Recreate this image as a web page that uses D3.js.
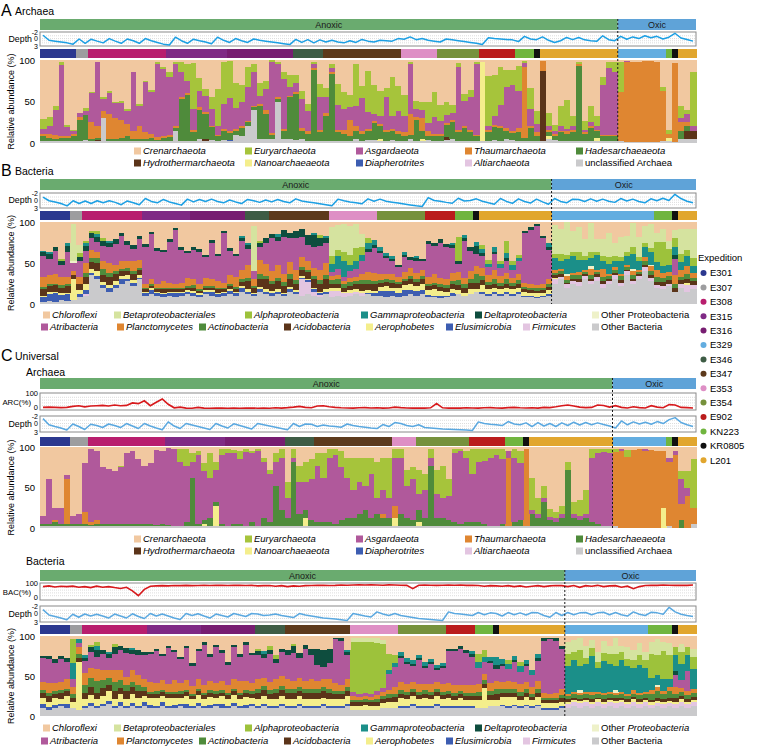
<!DOCTYPE html>
<html>
<head>
<meta charset="utf-8">
<script src="https://cdn.jsdelivr.net/npm/d3@7"></script>
<style>
  body { margin: 0; background: #fff; }
  svg { font-family: "Liberation Sans", Arial, Helvetica, sans-serif; }
</style>
</head>
<body>
<div id="chart"></div>
<script>
// ---------- categories ----------
var expNames  = ["E301","E307","E308","E315","E316","E329","E346","E347","E353","E354","E902","KN223","KR0805","L201"];
var expColors = ["#2b388f","#9d9d9f","#b81e6e","#7f2a85","#771d71","#63ade0","#3e5c45","#5d3a1c","#de8fc5","#76913c","#ba1c1c","#70b53f","#111111","#e1a62e"];
var zoneNames  = ["Anoxic","Oxic"];
var zoneColors = ["#6aab6f","#5fa3d8"];

var archKeys   = ["Crenarchaeota","Euryarchaeota","Asgardaeota","Thaumarchaeota","Hadesarchaeaeota",
                  "Hydrothermarchaeota","Nanoarchaeaeota","Diapherotrites","Altiarchaeota","unclassified Archaea"];
var archColors = ["#f1c8a0","#a6c43b","#b0599b","#df8631","#4f8b3b","#5b3419","#f4ee8c","#3d5db1","#e3c5e1","#cacacc"];
var bactKeys   = ["Chloroflexi","Betaproteobacteriales","Alphaproteobacteria","Gammaproteobacteria","Deltaproteobacteria",
                  "Other Proteobacteria","Atribacteria","Planctomycetes","Actinobacteria","Acidobacteria",
                  "Aerophobetes","Elusimicrobia","Firmicutes","Other Bacteria"];
var bactColors = ["#f1c8a0","#d5e39f","#9dc23b","#1b8f89","#0e4d3e","#eef1c9","#b0599b","#df8631","#4f8b3b","#5b3419",
                  "#f4ee8c","#3d5db1","#e3c5e1","#cacacc"];
var plainNames = ["unclassified Archaea","Other Proteobacteria","Other Bacteria"];
var depthTicks = ["-2","0","3"];
var abundTicks = [0, 50, 100];

// ---------- samples per expedition (left to right) ----------
var expA  = [["E301",6],["E307",2],["E308",13],["E315",10],["E316",11],["E346",5],["E347",13],["E353",6],["E354",7],["E902",6],["KN223",3],["KR0805",1],["L201",13],["E329",8],["KN223",1],["KR0805",1],["L201",3]];
var expB  = [["E301",5],["E307",2],["E308",10],["E315",8],["E316",9],["E346",4],["E347",10],["E353",8],["E354",8],["E902",5],["KN223",3],["KR0805",1],["L201",12],["E329",17],["KN223",3],["KR0805",1],["L201",3]];
var expCa = [["E301",5],["E307",3],["E308",13],["E315",10],["E316",10],["E346",5],["E347",13],["E353",4],["E354",9],["E902",6],["KN223",3],["KR0805",1],["L201",14],["E329",9],["KN223",1],["KR0805",1],["L201",3]];
var expCb = [["E301",5],["E307",2],["E308",11],["E315",9],["E316",9],["E346",5],["E347",11],["E353",8],["E354",8],["E902",5],["KN223",3],["KR0805",1],["L201",11],["E329",14],["KN223",4],["KR0805",1],["L201",3]];

// ---------- A: archaea (% per sample) ----------
var aUncl = [2,2,2,2,2,3,3,4,2,3, 30,3,2,2,3,2,2,3,2,2, 3,2,15,3,3,3,5,3,4,3, 4,3,10,8,20,40,5,5,5,50,
  5,5,4,5,3,3,3,3,3,3, 3,3,5,3,4,4,3,3,4,3, 3,5,3,3,4,3,3,4,5,3, 3,3,3,2,3,4,3,5,4,3,
  3,3,3,2,5,4,3,3,3,3, 3,3,3,3,3,3,2,1,1,1, 1,1,1,3,3,1,5,5,5];
var aHades = [5,4,3,3,4,6,25,30,3,2, 0,2,3,4,5,3,3,2,4,2, 3,5,3,50,55,10,35,30,15,5, 10,8,5,10,5,3,40,30,5,3,
  10,50,55,10,8,85,10,30,80,10, 8,5,10,8,10,20,15,10,10,8, 5,5,25,10,5,5,5,15,20,10, 15,10,5,0,10,15,15,10,8,10,
  3,15,5,0,5,5,10,8,10,90, 8,15,8,5,5,5,0,0,0,0, 0,0,0,0,0,0,10,5,0];
var aThaum = [3,5,5,3,3,2,3,0,20,15, 8,30,25,22,15,10,15,8,5,3, 3,3,2,2,2,3,3,2,2,2, 3,2,2,2,2,2,2,5,2,2,
  2,2,3,3,3,2,3,3,2,3, 5,20,5,3,3,3,3,3,3,3, 5,25,3,15,5,3,3,2,3,3, 3,3,2,0,3,3,3,3,3,5,
  85,3,5,12,3,2,2,3,3,2, 2,2,2,2,2,2,60,97,97,96, 98,98,97,60,5,95,10,5,0];
var aAsg = [6,10,30,85,10,3,5,5,35,76, 15,25,18,20,15,70,25,60,50,88, 80,70,75,30,15,25,20,20,20,10, 30,40,25,30,40,40,10,25,85,40,
  60,10,10,35,25,5,40,20,5,30, 25,15,25,40,20,8,10,40,15,25, 20,60,10,10,10,20,15,10,8,75, 30,40,85,0,5,10,25,50,55,45,
  5,20,10,0,5,3,5,3,5,0, 3,5,5,60,80,75,0,1,0,0, 0,0,0,0,0,0,5,10,5];
var aEury = [12,10,5,4,3,2,0,3,2,0, 2,3,2,3,3,0,2,2,3,2, 3,5,3,12,20,55,15,8,15,45, 50,45,30,20,25,10,15,10,3,3,
  8,15,10,10,8,3,15,10,5,25, 20,15,50,15,50,35,30,10,48,30, 25,3,10,10,25,30,20,15,10,5, 8,8,3,0,60,50,45,20,18,30,
  3,25,15,0,15,8,25,35,12,3, 10,20,12,10,8,12,35,0,0,0, 0,0,0,5,5,0,15,5,65];
var aHydro = [[0,1],[9,1],[27,2],[67,3],[83,85],[107,10],[108,10]];
var aNano  = [[56,2],[63,2],[73,96],[84,3],[92,3],[104,3]];
var aDiaph = [[3,1],[31,1]];
var depthA = [-1.2,0.8,1.2,1.6,2.0,2.6,0.2,2.2,0.3,1.2, 2.0,0.0,1.2,2.2,0.2,1.0,2.2,0.0,1.0,1.8,
  2.6,3.0,-0.5,1.0,2.2,0.3,1.0,1.6,2.4,-0.5, 0.8,1.8,0.0,1.0,1.8,0.2,0.8,1.2,1.6,2.0,
  2.4,2.8,0.4,1.8,0.5,2.0,0.6,1.6,0.8,1.6, 2.0,1.0,1.8,0.4,1.2,1.6,0.8,1.0,1.2,0.0,
  0.3,-0.6,0.5,0.0,0.8,1.2,1.6,0.2,0.6,1.0, 1.4,1.8,2.2,2.8,-0.3,0.0,0.2,0.4,0.6,1.4,
  -0.8,0.2,0.5,-0.6,0.8,1.8,1.0,-0.4,0.5,-0.4, 0.6,1.0,1.3,-1.0,0.5,1.0,-0.8,0.3,-0.6,0.0,
  -1.0,-0.3,-0.8,0.2,-0.5,-1.9,-0.2,0.4,1.2];

// ---------- B: bacteria (% per sample) ----------
var bOB = [3,4,3,5,4,5,8,10,35,30, 20,15,20,25,28,22,30,10,12,10, 8,10,8,10,12,10,8,12,10,9, 10,12,10,15,12,10,15,12,10,12,
  10,15,12,10,12,10,8,12,8,10, 8,10,12,10,12,10,10,8,10,9, 10,12,10,12,8,8,7,8,10,12, 10,12,15,12,10,12,10,12,10,12,
  8,8,7,8,10,25,30,20,25,22, 30,25,28,20,25,30,22,35,25,30, 40,28,20,18,22,15,20,15,18];
var bFirm = [0,0,0,0,0,0,0,2,0,0, 0,0,0,0,0,0,0,0,0,0, 0,0,0,0,0,0,0,0,0,0, 0,0,0,0,0,0,0,0,0,0,
  0,0,0,20,15,5,3,0,8,6, 5,4,3,3,0,0,0,0,0,0, 0,0,0,0,0,0,0,0,0,0, 0,0,0,0,0,0,0,0,0,0,
  0,0,0,0,0,5,3,4,3,5, 4,3,5,4,3,5,4,5,3,4, 5,4,3,4,3,0,5,8,5];
var bElus = [5,8,10,6,8,0,4,5,3,4, 3,5,3,6,3,4,2,3,5,3, 4,3,5,3,3,4,3,3,5,3, 3,4,3,5,3,2,3,3,3,3,
  2,3,3,2,2,3,2,3,0,0, 0,0,0,0,2,3,6,8,6,5, 7,5,6,5,3,2,3,2,3,0, 0,0,0,3,2,3,2,3,2,3,
  2,2,2,2,2,0,0,0,0,0, 0,0,0,0,0,0,0,0,0,0, 0,0,0,0,0,0,0,0,0];
var bAero = [2,3,2,3,2,25,5,8,5,6, 4,3,5,3,4,3,3,2,2,2, 2,2,2,2,2,2,2,2,2,2, 2,2,2,2,3,2,3,3,3,3,
  2,3,2,2,2,2,2,3,3,3, 2,3,3,3,3,3,5,6,4,5, 6,8,6,8,6,8,6,5,5,5, 4,6,3,8,6,5,6,5,6,5,
  5,4,4,4,5,2,0,0,0,0, 0,0,0,0,0,0,0,0,0,0, 0,0,0,0,0,0,0,3,0];
var bAcido = [8,7,8,6,8,5,8,8,8,10, 8,10,8,6,5,8,6,3,3,3, 4,3,3,3,3,4,3,3,3,4, 3,4,3,5,10,5,10,12,8,10,
  8,10,8,8,8,10,10,12,5,6, 5,5,6,8,8,8,5,5,6,5, 5,6,5,5,5,5,5,5,6,6, 5,8,8,6,5,5,4,5,4,5,
  3,3,3,3,4,3,3,2,3,3, 2,3,3,4,2,3,3,2,3,2, 3,3,4,5,4,5,4,5,5];
var bActino = [3,3,2,3,3,0,0,5,5,6, 8,5,4,3,4,3,3,2,2,2, 2,2,2,2,2,3,2,2,2,2, 2,3,3,3,4,3,5,4,4,4,
  5,5,4,3,3,4,4,5,5,5, 4,5,4,5,4,4,3,3,3,3, 3,3,3,4,3,3,3,3,4,6, 5,4,10,5,4,6,4,5,4,4,
  3,3,3,3,4,3,4,3,4,5, 3,4,3,5,4,3,5,3,4,3, 4,5,6,5,5,5,4,5,4];
var bPlancto = [12,10,12,10,8,5,8,12,10,8, 10,12,8,10,8,12,10,5,6,5, 8,6,5,6,10,8,6,10,8,8, 6,10,12,12,15,8,18,15,12,15,
  10,15,12,12,10,10,12,15,5,5, 4,5,5,8,10,10,8,6,8,6, 8,10,8,8,8,10,8,8,10,10, 8,10,10,10,8,10,8,8,6,8,
  5,5,4,5,6,3,3,5,3,4, 3,8,3,10,3,4,3,3,5,3, 5,6,8,6,5,10,8,10,6];
var bAtri = [25,20,28,15,30,10,20,15,15,12, 18,20,25,30,20,15,25,45,55,40, 35,50,65,40,30,35,40,25,45,30, 60,30,25,35,20,10,15,25,40,30,
  45,30,40,25,20,25,30,25,5,8, 5,8,10,15,25,30,25,20,15,12, 18,10,15,10,40,35,42,38,30,10, 45,25,15,15,10,20,10,15,10,15,
  60,65,72,55,35,0,0,0,0,0, 0,0,0,0,0,0,0,0,0,0, 0,0,0,0,0,20,0,0,0];
var bOtherP = [[5,3],[87,3],[91,3],[98,3],[101,2]];
var bDelta = [5,6,5,4,8,0,4,6,5,6, 6,5,6,4,5,5,4,3,3,3, 3,3,3,3,3,3,3,3,3,3, 3,3,3,3,5,0,5,6,5,5,
  8,6,8,10,12,15,10,5,0,0, 0,0,0,0,3,4,3,3,3,3, 3,3,3,3,4,4,5,4,4,3, 4,5,10,3,0,3,0,3,0,0,
  3,4,3,3,4,0,0,0,0,0, 0,0,0,0,0,0,0,0,0,0, 0,0,0,0,0,5,0,0,0];
var bGamma = [2,3,0,0,3,0,0,3,0,3, 0,2,0,0,0,0,0,0,0,0, 0,0,0,0,0,0,0,0,0,0, 0,0,0,3,3,0,0,0,0,3,
  0,0,0,0,0,2,0,3,10,15, 20,8,10,8,8,6,4,3,3,0, 3,0,3,0,0,0,0,0,3,0, 3,0,5,5,4,5,5,6,5,4,
  0,0,0,0,4,15,10,18,20,15, 12,10,18,10,12,8,15,10,18,10, 12,15,10,8,8,10,10,12,8];
var bAlpha = [0,0,0,3,0,0,5,3,3,4, 3,0,0,0,0,0,0,0,0,0, 0,0,0,0,0,0,0,0,0,0, 0,0,0,0,0,0,3,0,0,0,
  0,0,0,0,0,0,3,0,10,8, 10,12,15,10,5,0,0,0,0,0, 0,0,0,0,0,0,0,0,0,30, 0,0,0,5,5,0,3,15,5,4,
  0,0,0,0,0,5,8,5,6,10, 5,8,4,6,8,6,5,5,8,5, 6,5,25,30,20,10,10,8,10];
var bBeta = [0,0,0,0,0,45,10,0,0,0, 0,0,0,0,0,0,0,0,0,0, 0,0,0,0,0,0,0,0,0,0, 0,0,0,0,0,55,0,0,0,0,
  0,0,0,0,0,0,0,0,35,30, 35,35,30,15,0,0,0,0,0,0, 0,0,0,0,0,0,0,0,0,0, 0,0,0,0,0,0,0,0,0,0,
  0,0,0,0,0,35,30,40,25,30, 20,35,15,20,30,15,25,20,30,25, 20,30,10,15,10,10,30,25,35];
var depthB = [-1.0,0.3,0.8,1.5,2.5,0.3,1.5,0.4,1.5,0.3, 1.2,0.3,1.0,2.0,0.4,1.2,2.0,-0.5,0.6,1.2,
  -0.2,0.8,1.5,2.2,-0.3,0.8,-0.2,0.6,-0.3,0.6, 1.2,0.0,0.8,1.5,-0.2,0.3,1.0,0.0,0.8,-0.2,
  0.6,1.2,-0.4,0.4,0.8,1.2,1.6,2.0,2.5,-0.3, 0.3,0.8,1.2,1.6,-0.4,0.5,-0.3,0.5,0.9,1.3,
  1.7,2.1,2.5,2.8,-0.8,0.2,0.5,1.0,1.4,-0.6, 0.4,0.2,-0.4,0.5,1.2,1.8,-0.5,0.6,1.4,-0.4,
  0.6,1.3,-0.3,0.8,1.8,-0.5,0.6,1.2,-0.3,-0.2, 0.6,-0.4,0.5,-0.3,0.5,1.0,-0.5,0.4,-0.3,0.6,
  1.2,-0.4,0.3,-0.6,0.2,-1.9,-0.5,0.5,1.2];

// ---------- C: universal, archaea ----------
var caUncl = [2,2,3,2,2,2,2,2,2,2, 2,2,2,2,2,2,2,2,2,2, 2,2,2,2,2,2,2,2,2,2, 2,2,2,2,2,2,2,2,2,2,
  2,2,2,2,2,2,2,2,2,2, 2,2,2,2,2,2,2,2,2,2, 2,2,2,2,2,2,2,2,2,2, 2,2,2,2,2,2,2,2,2,2,
  2,2,2,2,2,2,2,2,2,2, 2,2,2,2,2,2,2,0,0,0, 0,0,0,0,0,2,0,0,0,5];
var caHades = [3,3,5,3,3,3,3,3,2,3, 3,3,3,3,3,3,3,3,3,2, 3,2,0,0,5,60,3,5,10,5, 3,0,3,3,0,5,0,10,5,50,
  20,10,80,15,10,8,5,5,5,3, 8,10,10,15,20,10,15,10,10,0, 15,10,8,15,10,75,10,10,8,5, 3,5,5,5,3,0,0,3,0,5,
  8,0,15,10,30,8,5,10,70,10, 8,10,5,3,0,0,0,0,0,0, 0,0,0,0,0,0,0,10,0,0];
var caThaum = [0,0,2,0,55,0,0,15,3,5, 0,0,0,0,0,0,0,0,0,0, 0,0,0,0,0,0,0,0,0,0, 0,0,0,0,0,0,0,0,0,0,
  0,0,0,0,0,0,0,0,0,0, 0,0,0,0,0,0,0,5,0,15, 0,0,0,0,0,0,0,0,0,0, 0,0,0,0,0,0,0,0,85,0,
  0,95,0,0,0,0,0,0,0,0, 0,0,0,0,0,0,92,95,88,96, 97,95,96,95,70,80,90,20,40,20];
var caAsg = [10,55,15,20,5,10,12,60,90,85, 70,68,65,70,88,90,80,72,75,92, 90,95,96,80,70,20,85,60,50,40, 85,90,88,80,92,85,93,70,60,30,
  65,25,5,40,35,50,70,55,80,85, 65,50,35,40,30,55,20,30,25,60, 70,40,50,20,35,10,30,25,30,85, 90,80,60,75,78,85,88,80,8,80,
  70,0,5,5,5,3,5,5,0,5, 5,5,80,88,92,90,0,2,0,0, 0,2,0,0,0,5,5,30,10,0];
var caEury = [0,0,0,0,0,0,0,0,0,0, 0,0,0,2,0,0,0,0,0,0, 0,0,0,15,20,10,5,10,30,10, 8,5,3,10,3,3,2,5,5,10,
  10,20,10,20,25,25,15,30,10,8, 20,25,40,30,35,20,45,40,50,10, 10,20,15,30,20,10,30,40,20,5, 3,8,30,15,15,10,8,12,0,10,
  15,0,40,20,15,10,8,10,10,15, 20,30,10,5,3,5,3,0,8,0, 0,0,0,0,0,0,0,10,20,60];
var caNano = [[27,3],[29,25],[44,10],[59,10],[63,5],[104,25]];
var arcPct = [8,10,8,6,8,15,20,12,18,20, 22,18,25,20,22,40,35,55,20,45, 68,30,5,10,3,2,8,3,2,4, 3,2,3,2,3,4,2,3,2,5,
  3,6,10,15,8,5,18,20,12,8, 5,4,3,5,6,4,5,3,4,10, 6,4,3,4,3,5,35,5,3,4, 3,5,4,3,5,6,4,3,6,8,
  5,4,5,3,8,6,12,20,25,18, 10,6,8,25,22,10,20,8,4,12, 6,4,20,10,5,28,25,8,6,4];
var depthCa = [-1.5,0.5,1.2,1.8,2.6,0.2,1.2,2.4,0.3,0.8, 1.6,0.2,0.8,1.6,0.0,1.0,2.0,0.0,1.0,1.8,
  2.5,-0.5,1.0,2.0,0.0,0.6,1.2,1.8,2.4,0.0, 1.0,1.8,0.1,0.8,1.5,2.2,0.0,0.5,1.0,1.5,
  2.0,2.5,0.0,1.2,0.2,0.3,1.2,0.6,1.0,1.2, 1.5,0.2,0.8,1.2,1.5,1.8,2.0,0.4,1.2,-0.3,
  0.0,0.8,1.2,0.5,1.6,1.8,2.0,2.2,2.3,2.4, 2.5,2.6,2.8,-0.5,0.0,0.3,0.5,0.8,-0.6,0.2,
  0.5,-0.2,1.2,-0.3,1.0,0.0,1.2,-0.2,0.8,-0.4, 0.6,-0.3,0.5,-0.2,0.4,1.0,1.8,-0.8,0.5,-0.5,
  0.2,-0.4,0.3,-0.6,0.0,-1.2,-1.8,-0.3,0.5,1.2];

// ---------- C: universal, bacteria ----------
var cbOB = [10,8,10,12,10,10,8,10,12,10, 12,15,10,12,10,12,10,12,10,10, 12,10,10,12,10,10,12,10,10,12, 10,10,12,10,10,12,10,12,10,10,
  12,10,10,12,10,10,10,12,10,10, 10,12,8,8,8,8,8,10,10,10, 10,10,12,10,10,10,12,10,10,10, 10,10,10,10,10,12,12,12,10,12,
  10,12,10,12,8,8,8,10,10,12, 10,12,10,12,10,12,10,12,10,12, 10,12,10,12,10,12,10,12,10,12];
var cbFirm = [0,0,0,0,0,0,0,0,0,0, 0,0,0,0,0,0,0,0,0,0, 0,0,0,0,0,0,0,0,0,0, 0,0,0,0,0,0,0,0,0,0,
  0,0,0,0,0,0,0,0,0,0, 0,0,0,0,0,0,0,0,0,0, 0,0,0,0,0,0,0,0,0,0, 0,0,0,0,0,0,0,0,0,0,
  0,0,0,0,0,0,0,0,5,5, 6,5,5,6,5,5,6,5,5,6, 5,5,4,4,5,4,5,6,5,5];
var cbElus = [5,3,4,3,5,0,0,3,4,3, 3,4,3,5,3,4,3,5,4,3, 5,3,4,3,5,3,4,3,4,3, 5,3,4,3,4,3,3,3,3,3,
  3,3,3,3,3,3,3,3,3,3, 3,3,0,0,0,0,0,0,0,0, 3,3,3,3,3,3,3,3,2,2, 2,2,2,0,0,0,0,2,2,2,
  2,2,2,2,2,2,2,2,0,0, 0,0,0,0,0,0,0,0,0,0, 0,0,0,0,0,0,0,0,0,0];
var cbAero = [8,6,8,6,10,8,60,8,10,8, 10,12,8,10,8,12,10,8,8,10, 8,10,8,8,10,8,10,8,10,8, 10,8,10,8,10,8,8,10,8,8,
  10,8,8,10,8,8,8,8,8,8, 8,10,5,5,6,5,5,6,8,8, 10,8,10,8,10,8,10,8,10,8, 10,8,8,10,25,8,8,10,12,10,
  8,10,8,10,6,6,6,6,3,3, 3,3,3,3,3,3,3,3,3,3, 3,3,3,3,3,3,3,3,3,3];
var cbAcido = [6,8,6,8,6,5,5,8,10,8, 10,8,10,8,10,8,8,6,5,5, 5,4,5,5,5,4,5,5,5,5, 4,5,5,5,5,5,8,8,6,8,
  8,8,8,6,8,8,8,8,8,6, 6,6,4,4,4,4,5,5,5,6, 5,5,5,5,5,5,5,5,5,5, 5,5,5,5,5,6,8,5,5,5,
  5,5,4,5,4,4,4,4,3,3, 2,3,3,2,3,3,3,2,3,3, 3,3,3,4,3,4,5,4,3,4];
var cbActino = [3,4,3,4,3,5,5,10,12,15, 10,8,12,10,8,6,8,5,3,3, 3,3,3,3,3,3,3,3,3,3, 3,3,3,3,3,3,5,5,5,5,
  5,5,5,5,5,5,5,5,5,4, 4,5,3,3,3,3,3,4,4,4, 4,4,4,4,4,4,4,4,4,4, 4,4,4,5,5,5,6,5,5,5,
  5,5,4,5,3,3,3,4,4,4, 5,4,5,4,5,4,4,5,4,4, 5,4,8,8,6,8,5,5,5,5];
var cbPlancto = [10,12,10,10,12,8,8,15,12,15, 12,10,15,12,10,15,12,10,12,10, 12,10,15,10,12,10,12,10,12,10, 12,10,12,15,12,10,12,10,10,12,
  12,12,10,12,10,12,10,10,12,10, 8,10,5,4,4,4,5,5,6,8, 10,10,8,10,8,10,8,10,10,10, 8,10,10,10,8,10,10,8,10,8,
  10,8,8,10,6,5,6,8,3,3, 3,3,4,3,3,3,3,3,3,4, 3,3,4,5,4,5,8,5,5,5];
var cbAtri = [30,30,25,28,22,10,5,15,20,15, 20,15,20,25,30,20,25,30,35,40, 30,45,35,30,40,25,35,50,30,45, 35,25,40,30,45,35,30,25,35,20,
  30,30,35,25,40,30,20,15,20,55, 55,30,5,4,4,3,5,5,20,25, 30,25,20,30,20,25,15,20,40,42, 45,40,35,20,15,25,15,20,15,25,
  15,20,15,25,65,68,65,50,0,0, 0,0,0,0,0,0,0,0,0,0, 0,0,0,0,0,0,15,10,25,0];
var cbOtherP = [[90,3],[96,3],[103,3]];
var cbDelta = [3,4,5,4,4,0,0,4,6,8, 6,5,8,6,6,5,6,4,3,3, 3,3,3,3,3,3,3,3,3,3, 3,3,3,3,3,3,5,5,5,5,
  4,6,8,6,5,8,20,22,18,2, 3,4,0,0,0,0,0,0,0,0, 3,3,3,3,3,3,3,3,3,3, 3,3,4,0,0,3,5,3,0,3,
  0,3,0,3,3,2,3,4,0,0, 0,0,0,0,0,0,0,0,0,0, 0,0,0,0,0,0,5,0,0,0];
var cbGamma = [0,0,0,0,0,20,5,3,0,5, 0,3,0,0,0,3,0,0,0,0, 0,0,0,0,0,0,0,0,0,0, 0,0,0,0,0,0,0,3,0,0,
  0,0,0,0,0,0,0,0,0,0, 0,3,0,0,0,0,0,0,5,5, 5,4,5,3,4,3,4,3,0,0, 0,0,3,8,6,5,10,6,6,5,
  8,5,6,5,0,0,0,0,35,40, 30,35,45,30,40,35,30,40,35,28, 35,30,15,12,15,10,20,20,20,25];
var cbAlpha = [0,0,0,0,0,30,0,0,3,5, 0,0,4,0,0,0,0,0,0,0, 0,0,0,0,0,0,0,0,0,0, 0,0,0,0,0,0,3,0,5,5,
  0,0,3,0,0,0,0,0,0,0, 0,0,62,65,64,66,60,55,20,10, 0,0,0,0,0,0,0,0,0,0, 0,0,0,10,8,0,0,0,5,0,
  5,0,0,0,0,0,0,0,15,10, 20,8,10,8,10,12,15,10,8,10, 12,10,30,25,35,30,10,15,10,15];
var cbBeta = [0,0,0,0,0,0,0,0,0,0, 0,0,0,0,0,0,0,0,0,0, 0,0,0,0,0,0,0,0,0,0, 0,0,0,0,0,0,0,0,0,0,
  0,0,0,0,0,0,0,0,0,0, 0,0,5,4,4,4,6,5,0,0, 0,0,0,0,0,0,0,0,0,0, 0,0,0,0,0,0,0,0,0,0,
  0,0,0,0,0,0,0,0,15,15, 15,15,10,12,15,10,20,8,15,12, 15,10,15,20,12,15,0,10,0,10];
var bacPct = [85,90,82,88,85,88,80,85,78,88, 80,85,78,72,80,55,20,65,88,90, 92,90,93,92,94,92,93,94,93,95, 94,93,95,94,93,94,90,92,93,88,
  92,85,90,88,92,93,94,95,93,94, 96,95,96,97,96,97,96,95,97,96, 95,94,70,95,96,95,94,95,96,95, 96,94,95,93,88,92,90,88,92,85,
  90,82,88,92,85,90,93,92,85,93, 80,92,88,94,85,90,92,80,88,70, 85,93,95,94,96,95,94,95,94,96];
var depthCb = [-1.2,0.6,1.2,1.8,2.5,0.3,1.5,0.2,1.0,0.3, 1.0,1.8,0.2,1.0,1.8,0.1,1.2,2.0,0.0,1.0,
  0.2,1.0,1.8,2.4,0.0,0.8,0.1,1.0,1.8,0.2, 0.8,1.4,0.0,0.6,1.2,0.0,0.2,0.8,0.6,0.2,
  0.8,1.2,1.6,0.0,0.6,1.0,1.4,1.8,2.0,2.2, 2.5,2.8,0.0,0.5,1.0,1.4,-0.5,0.2,0.8,0.0,
  0.8,1.2,1.6,2.0,2.2,2.4,2.6,2.8,-0.5,0.0, 0.2,0.5,0.8,-0.3,0.5,-0.2,0.0,1.0,-0.3,0.5,
  -0.2,0.6,-0.3,-0.2,0.8,1.5,-0.3,0.8,-0.3,0.5, -0.2,-0.3,0.5,-0.2,-0.4,0.5,-0.3,0.5,1.0,-0.5,
  0.3,0.8,-0.4,-0.2,0.3,-1.9,-0.5,0.3,0.8,1.2];

// ---------- drawing ----------
var W = 757, H = 747, X0 = 40, X1 = 696;
var svg = d3.select("#chart").append("svg").attr("width", W).attr("height", H);

function dense(n, pairs) {
  var a = new Array(n).fill(0);
  pairs.forEach(function(p) { a[p[0]] = p[1]; });
  return a;
}
function expand(counts) {
  var out = [];
  counts.forEach(function(c) { for (var k = 0; k < c[1]; k++) out.push(c[0]); });
  return out;
}

function drawPanel(p) {
  var samples = expand(p.exp), n = samples.length;
  var nAnox = samples.indexOf("E329");
  var x = d3.scaleBand().domain(d3.range(n)).range([X0, X1]);
  var xs = x(nAnox);
  var g = svg.append("g");

  // titles
  if (p.letter) {
    g.append("text").attr("x", 1).attr("y", p.letterY).attr("font-size", 16).text(p.letter);
    g.append("text").attr("x", 15).attr("y", p.letterY - 1).attr("font-size", 10.5).text(p.title);
  }
  if (p.sub) g.append("text").attr("x", 26).attr("y", p.subY).attr("font-size", 10.5).text(p.sub);

  // anoxic / oxic band
  var zones = [[X0, xs], [xs, X1]];
  zones.forEach(function(z, k) {
    g.append("rect").attr("x", z[0]).attr("y", p.anox[0]).attr("width", z[1] - z[0])
      .attr("height", p.anox[1] - p.anox[0]).attr("fill", zoneColors[k]);
    g.append("text").attr("x", (z[0] + z[1]) / 2).attr("y", (p.anox[0] + p.anox[1]) / 2 + 3.3)
      .attr("text-anchor", "middle").attr("font-size", 9).attr("fill", "#1a1a1a").text(zoneNames[k]);
  });

  var line = function(scale, vals) {
    return d3.line().x(function(d, i) { return x(i) + x.bandwidth() / 2; }).y(function(d) { return scale(d); })(vals);
  };

  // ratio box (C only)
  if (p.ratio) {
    var rb = p.ratioBox;
    var ry = d3.scaleLinear().domain([0, 100]).range([rb[1] - 1.5, rb[0] + 1.5]);
    g.append("rect").attr("x", X0).attr("y", rb[0]).attr("width", X1 - X0).attr("height", rb[1] - rb[0])
      .attr("fill", "#fff").attr("stroke", "#8a8a8a").attr("stroke-width", 1);
    [20, 40, 60, 80].forEach(function(v) {
      g.append("line").attr("x1", X0).attr("x2", X1).attr("y1", ry(v)).attr("y2", ry(v))
        .attr("stroke", "#c4c4c4").attr("stroke-width", 0.6).attr("stroke-dasharray", "1,1");
    });
    g.append("path").attr("d", line(ry, p.ratio)).attr("fill", "none").attr("stroke", "#d7191c").attr("stroke-width", 1.6);
    g.append("text").attr("x", 38).attr("y", rb[0] + 2.5).attr("text-anchor", "end").attr("font-size", 7.5).text("100");
    g.append("text").attr("x", 38).attr("y", rb[1] - 0.5).attr("text-anchor", "end").attr("font-size", 7.5).text("0");
    g.append("text").attr("x", 31).attr("y", (rb[0] + rb[1]) / 2 + 3).attr("text-anchor", "end").attr("font-size", 7.8).text(p.ratioLabel);
  }

  // depth box
  var db = p.depthBox;
  var dMid = db[0] + (db[1] - db[0]) * 0.47;
  var dy = d3.scaleLinear().domain([-2, 0, 3]).range([db[0] + 1, dMid, db[1] - 1]);
  g.append("rect").attr("x", X0).attr("y", db[0]).attr("width", X1 - X0).attr("height", db[1] - db[0])
    .attr("fill", "#fff").attr("stroke", "#8a8a8a").attr("stroke-width", 1);
  [-1, 0, 1, 2].forEach(function(v) {
    g.append("line").attr("x1", X0).attr("x2", X1).attr("y1", dy(v)).attr("y2", dy(v))
      .attr("stroke", "#c4c4c4").attr("stroke-width", 0.6).attr("stroke-dasharray", "1,1");
  });
  g.append("path").attr("d", line(dy, p.depth)).attr("fill", "none")
    .attr("stroke", p.depthColor).attr("stroke-width", 1.5).attr("stroke-linejoin", "round");
  // tick labels sit at the top, middle and bottom of the box
  var tickY = [db[0] + 2.5, dMid + 2.6, db[1] + 3];
  depthTicks.forEach(function(t, k) {
    g.append("text").attr("x", 38).attr("y", tickY[k]).attr("text-anchor", "end").attr("font-size", 7).text(t);
  });
  g.append("text").attr("x", 32).attr("y", dMid + 3.2).attr("text-anchor", "end").attr("font-size", 8.8).text("Depth");

  // expedition strip
  g.selectAll(".strip").data(samples).enter().append("rect")
    .attr("x", function(d, i) { return x(i); }).attr("width", x.bandwidth() + 0.5)
    .attr("y", p.strip[0]).attr("height", p.strip[1] - p.strip[0])
    .attr("fill", function(d) { return expColors[expNames.indexOf(d)]; })
    .attr("shape-rendering", "crispEdges");

  // stacked bars
  var topKey = p.keys[0];
  var rows = d3.range(n).map(function(i) {
    var r = {}, used = 0;
    p.keys.slice(1).forEach(function(k) {
      var v = p.series[k] ? (p.series[k][i] || 0) : 0;
      r[k] = v; used += v;
    });
    r[topKey] = Math.max(0, 100 - used);
    return r;
  });
  var stacked = d3.stack().keys(p.keys.slice().reverse())(rows);
  var y = d3.scaleLinear().domain([0, 100]).range([p.bars[1], p.bars[0]]);
  g.selectAll(".layer").data(stacked).enter().append("g")
    .attr("fill", function(d) { return p.colors[p.keys.indexOf(d.key)]; })
    .selectAll("rect").data(function(d) { return d; }).enter().append("rect")
      .attr("x", function(d, i) { return x(i); })
      .attr("width", x.bandwidth() + 0.5)
      .attr("y", function(d) { return y(d[1]); })
      .attr("height", function(d) { return y(d[0]) - y(d[1]); })
      .attr("shape-rendering", "crispEdges");

  var ax = g.append("g").attr("transform", "translate(" + X0 + ",0)")
    .call(d3.axisLeft(y).tickValues(abundTicks).tickSize(0).tickPadding(5));
  ax.select(".domain").remove();
  ax.selectAll("text").attr("font-size", 9.5).attr("font-family", "Liberation Sans, Arial, sans-serif");
  g.append("text").attr("transform", "translate(14," + ((p.bars[0] + p.bars[1]) / 2) + ") rotate(-90)")
    .attr("text-anchor", "middle").attr("font-size", 9).text("Relative abundance (%)");

  // oxic boundary
  g.append("line").attr("x1", xs).attr("x2", xs).attr("y1", p.anox[0]).attr("y2", p.bars[1])
    .attr("stroke", "#1a1a1a").attr("stroke-width", 1).attr("stroke-dasharray", "2,2");

  // legend
  p.legendRows.forEach(function(row, r) {
    d3.range(row[0], row[1]).forEach(function(k, j) {
      var lx = p.legendCols[r][j], ly = p.legendY[r];
      g.append("rect").attr("x", lx).attr("y", ly - 3.5).attr("width", 7).attr("height", 7).attr("fill", p.colors[k]);
      var name = p.keys[k];
      var t = g.append("text").attr("x", lx + 9).attr("y", ly + 3.3).attr("font-size", 9.5);
      if (p.splitOther && name === "Other Proteobacteria") {
        t.append("tspan").text("Other ");
        t.append("tspan").attr("font-style", "italic").text("Proteobacteria");
      } else {
        t.attr("font-style", plainNames.indexOf(name) >= 0 ? "normal" : "italic").text(name);
      }
    });
  });
}

var archCols = [[134, 245, 356, 465, 576], [134, 245, 356, 465, 576]];
var bactCols = [[43, 114, 245, 361, 475, 592], [41, 117, 199, 284, 366, 446, 523, 592]];

drawPanel({
  letter: "A", title: "Archaea", letterY: 16,
  exp: expA, keys: archKeys, colors: archColors, depth: depthA, depthColor: "#1c9fe3",
  series: {
    "Euryarchaeota": aEury, "Asgardaeota": aAsg, "Thaumarchaeota": aThaum, "Hadesarchaeaeota": aHades,
    "Hydrothermarchaeota": dense(109, aHydro), "Nanoarchaeaeota": dense(109, aNano),
    "Diapherotrites": dense(109, aDiaph), "unclassified Archaea": aUncl
  },
  anox: [19, 30], depthBox: [32, 46], strip: [49, 58], bars: [60, 143],
  legendY: [151, 163], legendRows: [[0, 5], [5, 10]], legendCols: archCols
});

drawPanel({
  letter: "B", title: "Bacteria", letterY: 176,
  exp: expB, keys: bactKeys, colors: bactColors, depth: depthB, depthColor: "#1c9fe3",
  series: {
    "Betaproteobacteriales": bBeta, "Alphaproteobacteria": bAlpha, "Gammaproteobacteria": bGamma,
    "Deltaproteobacteria": bDelta, "Other Proteobacteria": dense(109, bOtherP), "Atribacteria": bAtri,
    "Planctomycetes": bPlancto, "Actinobacteria": bActino, "Acidobacteria": bAcido, "Aerophobetes": bAero,
    "Elusimicrobia": bElus, "Firmicutes": bFirm, "Other Bacteria": bOB
  },
  anox: [179, 190], depthBox: [193, 208], strip: [211, 220], bars: [222, 304],
  legendY: [315, 327], legendRows: [[0, 6], [6, 14]], legendCols: bactCols
});

drawPanel({
  letter: "C", title: "Universal", letterY: 361, sub: "Archaea", subY: 376,
  exp: expCa, keys: archKeys, colors: archColors, depth: depthCa, depthColor: "#5aa8e0",
  ratio: arcPct, ratioLabel: "ARC(%)", ratioBox: [393, 410],
  series: {
    "Euryarchaeota": caEury, "Asgardaeota": caAsg, "Thaumarchaeota": caThaum, "Hadesarchaeaeota": caHades,
    "Nanoarchaeaeota": dense(110, caNano), "unclassified Archaea": caUncl
  },
  anox: [378, 389], depthBox: [416, 432], strip: [437, 446], bars: [447, 528],
  legendY: [539, 551], legendRows: [[0, 5], [5, 10]], legendCols: archCols
});

drawPanel({
  sub: "Bacteria", subY: 565,
  exp: expCb, keys: bactKeys, colors: bactColors, depth: depthCb, depthColor: "#5aa8e0",
  ratio: bacPct, ratioLabel: "BAC(%)", ratioBox: [583, 600], splitOther: true,
  series: {
    "Betaproteobacteriales": cbBeta, "Alphaproteobacteria": cbAlpha, "Gammaproteobacteria": cbGamma,
    "Deltaproteobacteria": cbDelta, "Other Proteobacteria": dense(110, cbOtherP), "Atribacteria": cbAtri,
    "Planctomycetes": cbPlancto, "Actinobacteria": cbActino, "Acidobacteria": cbAcido, "Aerophobetes": cbAero,
    "Elusimicrobia": cbElus, "Firmicutes": cbFirm, "Other Bacteria": cbOB
  },
  anox: [570, 581], depthBox: [606, 622], strip: [625, 634], bars: [636, 716],
  legendY: [728, 741], legendRows: [[0, 6], [6, 14]], legendCols: bactCols
});

// expedition legend
var leg = svg.append("g");
leg.append("text").attr("x", 698).attr("y", 261).attr("font-size", 9.5).text("Expedition");
expNames.forEach(function(e, k) {
  var cy = 273 + k * 14.4;
  leg.append("circle").attr("cx", 703.5).attr("cy", cy).attr("r", 3).attr("fill", expColors[k]);
  leg.append("text").attr("x", 710).attr("y", cy + 3.4).attr("font-size", 9.5).text(e);
});
</script>
</body>
</html>
